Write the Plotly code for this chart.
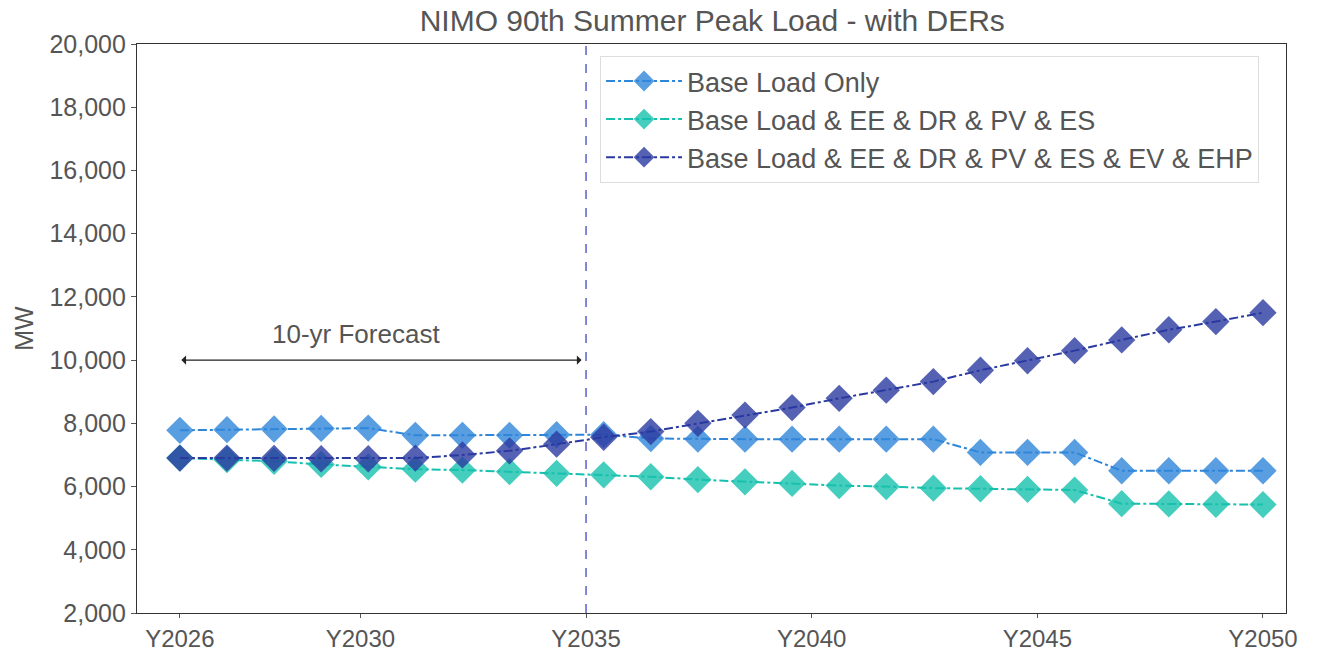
import numpy as np
import plotly.graph_objects as go

# Forecast periods (24 evenly spaced points spanning 2026-2050)
n_points = 24
x_pos = np.linspace(2026, 2050, n_points)

tick_years = [2026, 2030, 2035, 2040, 2045, 2050]
tick_labels = ["Y2026", "Y2030", "Y2035", "Y2040", "Y2045", "Y2050"]

base_only = [7780, 7800, 7820, 7840, 7850, 7620, 7620, 7620, 7640, 7640, 7520, 7500,
             7500, 7500, 7500, 7500, 7500, 7080, 7080, 7080, 6500, 6500, 6500, 6500]
base_ee_dr_pv_es = [6900, 6850, 6800, 6700, 6620, 6550, 6520, 6470, 6420, 6370, 6310, 6220,
                    6150, 6100, 6030, 6000, 5950, 5930, 5910, 5890, 5460, 5450, 5440, 5430]
base_all_ders = [6900, 6900, 6890, 6880, 6880, 6900, 7000, 7130, 7340, 7560, 7740, 8000,
                 8260, 8500, 8790, 9050, 9320, 9680, 9980, 10300, 10640, 10960, 11220, 11500]

series = [
    ("Base Load Only", base_only, "#2f86d9"),
    ("Base Load & EE & DR & PV & ES", base_ee_dr_pv_es, "#16c0ae"),
    ("Base Load & EE & DR & PV & ES & EV & EHP", base_all_ders, "#2b3aa0"),
]

forecast_start = 2026
forecast_end = 2035
forecast_y = 10000

fig = go.Figure()
for i, (name, vals, color) in enumerate(series):
    fig.add_trace(go.Scatter(
        x=x_pos, y=vals, name=name, mode="lines+markers",
        line=dict(color=color, width=2, dash="dashdot"),
        marker=dict(symbol="diamond", size=21, color=color, opacity=0.8,
                    line=dict(width=0)),
        legendgroup=f"g{i}",
    ))

# 10-year forecast boundary
fig.add_shape(type="line", xref="x", yref="paper", x0=forecast_end, x1=forecast_end,
              y0=0, y1=1, line=dict(color="#5a5fc6", width=1.5, dash="dash"))

# Double-headed arrow spanning the 10-year window
fig.add_annotation(x=forecast_end - 0.1, y=forecast_y, ax=forecast_start, ay=forecast_y,
                   xref="x", yref="y", axref="x", ayref="y", text="",
                   showarrow=True, arrowhead=1, arrowside="end+start",
                   arrowsize=1.2, arrowwidth=1.3, arrowcolor="#222")
fig.add_annotation(x=2029.9, y=forecast_y, xref="x", yref="y",
                   text="10-yr Forecast", showarrow=False, yshift=26,
                   font=dict(size=26, color="#555"))

axis_common = dict(showline=True, linecolor="#333", linewidth=1.2, mirror=True,
                   ticks="outside", tickcolor="#555", showgrid=False,
                   zeroline=False, automargin=False)

fig.update_layout(
    width=1319, height=652,
    margin=dict(l=137, r=33, t=44, b=39),
    paper_bgcolor="white", plot_bgcolor="white",
    font=dict(family="Liberation Sans, Arial, sans-serif", color="#555"),
    title=dict(text="NIMO 90th Summer Peak Load - with DERs", x=0.54, xanchor="center",
               y=0.968, yanchor="middle", font=dict(size=30, color="#555")),
    xaxis=dict(range=[2025.05, 2050.51], tickvals=tick_years, ticktext=tick_labels,
               ticklen=4, tickfont=dict(size=24, color="#555"), **axis_common),
    yaxis=dict(range=[2000, 20000], dtick=2000, tickformat=",",
               ticklen=5, tickfont=dict(size=25, color="#555"),
               title=dict(text="MW", font=dict(size=25, color="#555"), standoff=8),
               **axis_common),
    legend=dict(x=0.403, y=0.979, xanchor="left", yanchor="top",
                bgcolor="white", bordercolor="#ddd", borderwidth=1,
                font=dict(size=27, color="#555"), tracegroupgap=0,
                itemwidth=76),
    showlegend=True,
)

fig.write_html("out.html")
